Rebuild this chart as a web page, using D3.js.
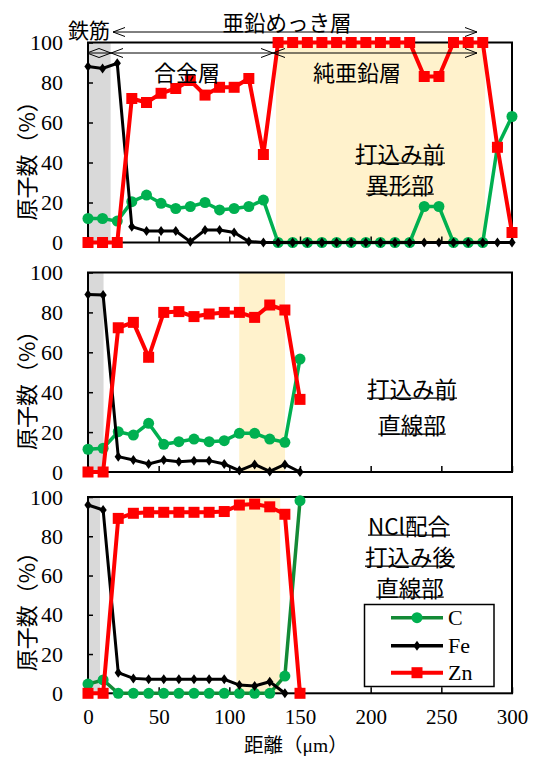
<!DOCTYPE html>
<html><head><meta charset="utf-8">
<script src="https://cdn.jsdelivr.net/npm/d3@7"></script>
<style>
body{margin:0;background:#fff}
.serif{font-family:"Liberation Serif","Tinos","Times New Roman",Times,"Noto Serif","DejaVu Serif","FreeSerif","Nimbus Roman",serif !important;}
.cjk{font-family:"Noto Sans CJK JP","Noto Sans CJK SC",sans-serif;}
</style>
</head><body><svg id="c" width="533" height="757"></svg>
<script>
const xTicks = [0, 50, 100, 150, 200, 250, 300];
const yTicks = [0, 20, 40, 60, 80, 100];

const xTop = [0, 10.3, 20.7, 31.0, 41.4, 51.7, 62.1, 72.4, 82.8, 93.1, 103.4, 113.8, 124.1, 134.5, 144.8,
  155.2, 165.5, 175.9, 186.2, 196.6, 206.9, 217.2, 227.6, 237.9, 248.3, 258.6, 269.0, 279.3, 289.7, 300];
const topC  = [12, 12, 10.7, 20.4, 23.7, 19.6, 17, 18, 20, 16.3, 17, 18, 21.2, 0, 0, 0, 0, 0, 0, 0, 0, 0, 0, 18, 18, 0, 0, 0, 48, 63];
const topFe = [88, 87, 89.6, 7.9, 5.7, 5.7, 5.7, 0.4, 6.2, 6.2, 5, 0.5, 0, 0, 0, 0, 0, 0, 0, 0, 0, 0, 0, 0, 0, 0, 0, 0, 0, 0];
const topZn = [0, 0, 0, 72, 70, 74.6, 77, 81, 73.7, 77.6, 77.6, 82, 44, 100, 100, 100, 100, 100, 100, 100, 100, 100, 100, 83, 83, 100, 100, 100, 47.6, 5];

const xShort = [0, 10.7, 21.4, 32.1, 42.9, 53.6, 64.3, 75, 85.7, 96.4, 107.1, 117.9, 128.6, 139.3, 150];
const midC  = [11.4, 11.9, 20.2, 18.5, 24.4, 13.9, 15.2, 16.5, 15.2, 15.7, 19.4, 19.4, 16.5, 14.9, 56.6];
const midFe = [89, 88.7, 7.7, 6, 4, 6, 5.2, 5.7, 5.7, 4, 0.7, 3.8, 0.3, 3.8, 0];
const midZn = [0, 0, 72.3, 75, 57.5, 80, 80.4, 77.9, 79.2, 80, 80, 77.5, 83.7, 81.2, 36.4];

const botC  = [4.7, 6.8, 0, 0, 0, 0, 0, 0, 0, 0, 0, 0, 0, 8.8, 98.1];
const botFe = [95.9, 93.4, 10.5, 7.6, 7.1, 7.1, 7.1, 7.1, 7.1, 7.1, 4.2, 3.7, 5.9, 0, null];
const botZn = [0, 0, 89.1, 91.7, 92.2, 92.2, 92.2, 92.2, 92.2, 92.6, 95.9, 96.4, 95, 91.2, 0];

const seriesNames = ["C", "Fe", "Zn"];
const ironBand = [[0, 16], [0, 11], [0, 8.5]];
const zincBand = [[133, 281], [107, 139.4], [105, 136]];

const GREEN = "#00B050", GREEN_D = "#138A36", RED = "#FF0000";

const svg = d3.select("#c");
const x = d3.scaleLinear().domain([0, 300]).range([88, 512]);

const panels = [
  {y0: 242.5, y1: 42.5, xs: xTop, C: topC, Fe: topFe, Zn: topZn, band1: ironBand[0], band2: zincBand[0], cLine: GREEN},
  {y0: 472, y1: 272.5, xs: xShort, C: midC, Fe: midFe, Zn: midZn, band1: ironBand[1], band2: zincBand[1], cLine: GREEN},
  {y0: 693.3, y1: 497, xs: xShort, C: botC, Fe: botFe, Zn: botZn, band1: ironBand[2], band2: zincBand[2], cLine: GREEN_D}
];

const diamond = "M0,-5L3.6,0L0,5L-3.6,0Z";

panels.forEach((p, pi) => {
  const y = d3.scaleLinear().domain([0, 100]).range([p.y0, p.y1]);
  const g = svg.append("g");
  g.append("rect").attr("x", x(p.band1[0])).attr("y", y(100))
    .attr("width", x(p.band1[1]) - x(p.band1[0])).attr("height", y(0) - y(100)).attr("fill", "#D9D9D9");
  g.append("rect").attr("x", x(p.band2[0])).attr("y", y(100))
    .attr("width", x(p.band2[1]) - x(p.band2[0])).attr("height", y(0) - y(100)).attr("fill", "#FFF2CC");
  g.append("rect").attr("x", x(0)).attr("y", y(100)).attr("width", x(300) - x(0)).attr("height", y(0) - y(100))
    .attr("fill", "none").attr("stroke", "#000").attr("stroke-width", 2);
  const ya = d3.axisLeft(y).tickValues(yTicks).tickSizeInner(-5).tickSizeOuter(0).tickPadding(25);
  const yg = g.append("g").attr("transform", `translate(${x(0)},0)`).call(ya);
  yg.attr("font-family", null).attr("font-size", null);
  yg.select(".domain").remove();
  yg.selectAll("line").attr("stroke", "#000").attr("stroke-width", 1.5);
  yg.selectAll("text").attr("class", "serif").attr("font-size", 22).attr("fill", "#000");
  const xa = d3.axisBottom(x).tickValues(xTicks).tickSizeInner(-6).tickSizeOuter(0).tickFormat(pi === 2 ? d3.format("d") : "");
  const xg = g.append("g").attr("transform", `translate(0,${y(0)})`).call(xa);
  xg.attr("font-family", null).attr("font-size", null);
  xg.select(".domain").remove();
  xg.selectAll("line").attr("stroke", "#000").attr("stroke-width", 1.5);
  xg.selectAll("text").attr("class", "serif").attr("font-size", 21).attr("fill", "#000").attr("dy", 0).attr("y", 31);

  svg.append("text").attr("class", "cjk").attr("transform", `translate(25,${p.y0 - 22}) rotate(-90)`)
    .attr("font-size", 22).attr("dominant-baseline", "central").attr("fill", "#000").text("原子数（%）");

  const line = d3.line().defined(d => d[1] != null).x(d => x(d[0])).y(d => y(d[1]));
  const mk = arr => p.xs.map((v, i) => [v, arr[i]]);
  g.append("path").datum(mk(p.C)).attr("d", line).attr("fill", "none").attr("stroke", p.cLine).attr("stroke-width", 3.5);
  g.selectAll(".c").data(mk(p.C)).join("circle").attr("cx", d => x(d[0])).attr("cy", d => y(d[1])).attr("r", 5.5).attr("fill", GREEN);
  g.append("path").datum(mk(p.Fe)).attr("d", line).attr("fill", "none").attr("stroke", "#000").attr("stroke-width", 3);
  g.selectAll(".fe").data(mk(p.Fe).filter(d => d[1] != null)).join("path")
    .attr("d", diamond).attr("transform", d => `translate(${x(d[0])},${y(d[1])})`).attr("fill", "#000");
  g.append("path").datum(mk(p.Zn)).attr("d", line).attr("fill", "none").attr("stroke", RED).attr("stroke-width", 4);
  g.selectAll(".zn").data(mk(p.Zn)).join("rect").attr("x", d => x(d[0]) - 5.5).attr("y", d => y(d[1]) - 5.5)
    .attr("width", 11).attr("height", 11).attr("fill", RED);
});

const xt = svg.append("text").attr("x", 244).attr("y", 751.5)
  .attr("font-size", 19.5).attr("fill", "#000");
xt.append("tspan").attr("class", "cjk").text("距離（");
xt.append("tspan").attr("class", "serif").text("μm");
xt.append("tspan").attr("class", "cjk").text("）");

const defs = svg.append("defs");
defs.append("marker").attr("id", "ah").attr("viewBox", "0 0 12 10").attr("refX", 12).attr("refY", 5)
  .attr("markerWidth", 12).attr("markerHeight", 10).attr("markerUnits", "userSpaceOnUse")
  .attr("orient", "auto-start-reverse")
  .append("path").attr("d", "M0,0.5L12,5L0,9.5").attr("fill", "none").attr("stroke", "#000").attr("stroke-width", 1);
const arrows = [[113, 477, 32], [87, 111, 53], [111, 273, 53], [273, 477, 53]];
arrows.forEach(a => {
  svg.append("line").attr("x1", a[0]).attr("x2", a[1]).attr("y1", a[2]).attr("y2", a[2])
    .attr("stroke", "#000").attr("stroke-width", 1)
    .attr("marker-start", "url(#ah)").attr("marker-end", "url(#ah)");
});

function label(txt, cx, cy, size, underline) {
  const t = svg.append("text").attr("class", "cjk").attr("x", cx).attr("y", cy).attr("text-anchor", "middle")
    .attr("dominant-baseline", "central").attr("font-size", size).attr("fill", "#000").text(txt);
  if (underline) {
    const w = t.node().getComputedTextLength();
    svg.append("line").attr("x1", cx - w / 2).attr("x2", cx + w / 2).attr("y1", cy + size * 0.45).attr("y2", cy + size * 0.45)
      .attr("stroke", "#000").attr("stroke-width", 1.3);
  }
}
label("鉄筋", 89, 29, 21, false);
label("亜鉛めっき層", 287, 21, 21.5, false);
label("合金層", 187, 71, 22, false);
label("純亜鉛層", 357, 71, 22, false);
label("打込み前", 400, 153, 22.5, true);
label("異形部", 400, 184, 22.5, true);
label("打込み前", 412, 388, 22.5, true);
label("直線部", 412, 424, 22.5, true);
label("NCl配合", 409, 525, 22.5, true);
label("打込み後", 410, 556, 22.5, true);
label("直線部", 410, 587, 22.5, true);

const lg = svg.append("g");
lg.append("rect").attr("x", 364.5).attr("y", 604.5).attr("width", 129.5).attr("height", 82)
  .attr("fill", "#fff").attr("stroke", "#000").attr("stroke-width", 1.5);
const legY = [617.7, 645.7, 672.7];
seriesNames.forEach((n, i) => {
  const col = n === "C" ? GREEN_D : n === "Fe" ? "#000" : RED;
  lg.append("line").attr("x1", 391).attr("x2", 443).attr("y1", legY[i]).attr("y2", legY[i])
    .attr("stroke", col).attr("stroke-width", n === "Zn" ? 4 : 3.5);
  if (n === "C") lg.append("circle").attr("cx", 417).attr("cy", legY[i]).attr("r", 5.5).attr("fill", GREEN);
  if (n === "Fe") lg.append("path").attr("d", diamond).attr("transform", `translate(417,${legY[i]})`).attr("fill", "#000");
  if (n === "Zn") lg.append("rect").attr("x", 411.5).attr("y", legY[i] - 5.5).attr("width", 11).attr("height", 11).attr("fill", RED);
  lg.append("text").attr("class", "serif").attr("x", 448).attr("y", legY[i]).attr("dominant-baseline", "central")
    .attr("font-size", 22).attr("fill", "#000").text(n);
});
</script></body></html>
